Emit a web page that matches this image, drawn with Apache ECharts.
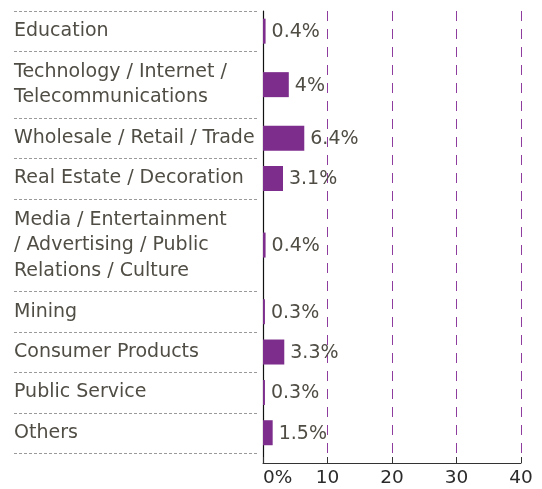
<!DOCTYPE html>
<html>
<head>
<meta charset="utf-8">
<script src="https://cdn.jsdelivr.net/npm/echarts@6/dist/echarts.min.js"></script>
<style>
html,body{margin:0;padding:0;background:#fff;}
#main{width:542px;height:489px;}
</style>
</head>
<body>
<div id="main"></div>
<script>
// ---- data ----
const categories = [
  'Education',
  'Technology / Internet /\nTelecommunications',
  'Wholesale / Retail / Trade',
  'Real Estate / Decoration',
  'Media / Entertainment\n/ Advertising / Public\nRelations / Culture',
  'Mining',
  'Consumer Products',
  'Public Service',
  'Others'
];
const values = [0.4, 4, 6.4, 3.1, 0.4, 0.3, 3.3, 0.3, 1.5];
const valueLabels = ['0.4%', '4%', '6.4%', '3.1%', '0.4%', '0.3%', '3.3%', '0.3%', '1.5%'];
const xTickLabels = ['0%', '10', '20', '30', '40'];

// ---- layout helpers (row heights follow the number of text lines) ----
const ROW_PAD = 14, LINE_UNIT = 26, BOTTOM_PAD = 10;
const rowStart = [], rowEnd = [];
let acc = 0;
categories.forEach(function (c) {
  const n = c.split('\n').length;
  rowStart.push(acc);
  acc += ROW_PAD + LINE_UNIT * n;
  rowEnd.push(acc);
});
const yMax = acc + BOTTOM_PAD;

const FONT = '"DejaVu Sans", sans-serif';
const TEXT_COLOR = '#504d45';
const BAR_COLOR = '#7d2e8c';

const barData = values.map(function (v, i) { return [v, rowStart[i], rowEnd[i], i]; });
const rowData = categories.map(function (c, i) { return [0, rowStart[i], rowEnd[i], i]; });

const chart = echarts.init(document.getElementById('main'), null, { renderer: 'canvas' });
chart.setOption({
  backgroundColor: '#fff',
  animation: false,
  grid: { left: 263, right: 21, top: 11, bottom: 26, containLabel: false },
  xAxis: {
    type: 'value',
    position: 'bottom',
    min: 0, max: 40, interval: 10,
    axisLine: { show: true, onZero: false, lineStyle: { color: '#333', width: 1 } },
    axisTick: { show: true, inside: true, length: 6, lineStyle: { color: '#333' } },
    axisLabel: {
      color: '#2b2b2b', fontSize: 18.5, fontFamily: FONT, margin: 6,
      alignMinLabel: 'left',
      formatter: function (v) { return xTickLabels[Math.round(v / 10)]; }
    },
    splitLine: { show: true, lineStyle: { color: '#8e3d9e', type: [10, 8], width: 1 } }
  },
  yAxis: {
    type: 'value',
    inverse: true,
    min: 0, max: yMax,
    axisLine: { show: true, onZero: false, lineStyle: { color: '#111', width: 1.2 } },
    axisTick: { show: false },
    axisLabel: { show: false },
    splitLine: { show: false }
  },
  series: [
    {
      type: 'custom',
      name: 'rows',
      clip: false,
      silent: true,
      data: rowData,
      encode: { x: 0, y: [1, 2] },
      renderItem: function (params, api) {
        const i = api.value(3);
        const top = api.coord([0, api.value(1)]);
        const bot = api.coord([0, api.value(2)]);
        const x0 = top[0] - 249, x1 = top[0] - 5;
        const children = [];
        const lineStyle = { stroke: '#9a9a9a', lineWidth: 1, lineDash: [3, 2] };
        if (i === 0) {
          children.push({ type: 'line', shape: { x1: x0, y1: Math.round(top[1]) + 0.5, x2: x1, y2: Math.round(top[1]) + 0.5 }, style: lineStyle });
        }
        children.push({ type: 'line', shape: { x1: x0, y1: Math.round(bot[1]) + 0.5, x2: x1, y2: Math.round(bot[1]) + 0.5 }, style: lineStyle });
        children.push({
          type: 'text',
          x: x0,
          y: (top[1] + bot[1]) / 2,
          style: {
            text: categories[i],
            fill: TEXT_COLOR,
            font: '19px ' + FONT,
            align: 'left',
            verticalAlign: 'middle',
            lineHeight: 25.5
          }
        });
        return { type: 'group', children: children };
      },
      z: 1
    },
    {
      type: 'custom',
      name: 'bars',
      data: barData,
      encode: { x: 0, y: [1, 2] },
      renderItem: function (params, api) {
        const i = api.value(3);
        const mid = (api.value(1) + api.value(2)) / 2;
        const p0 = api.coord([0, mid]);
        const p1 = api.coord([api.value(0), mid]);
        return {
          type: 'group',
          children: [
            { type: 'rect', shape: { x: p0[0], y: p0[1] - 12.5, width: p1[0] - p0[0], height: 25 }, style: { fill: BAR_COLOR } },
            { type: 'text', x: p1[0] + 6, y: p0[1] + 1, style: { text: valueLabels[i], fill: TEXT_COLOR, font: '19px ' + FONT, align: 'left', verticalAlign: 'middle' } }
          ]
        };
      },
      z: 2
    }
  ]
});
</script>
</body>
</html>
